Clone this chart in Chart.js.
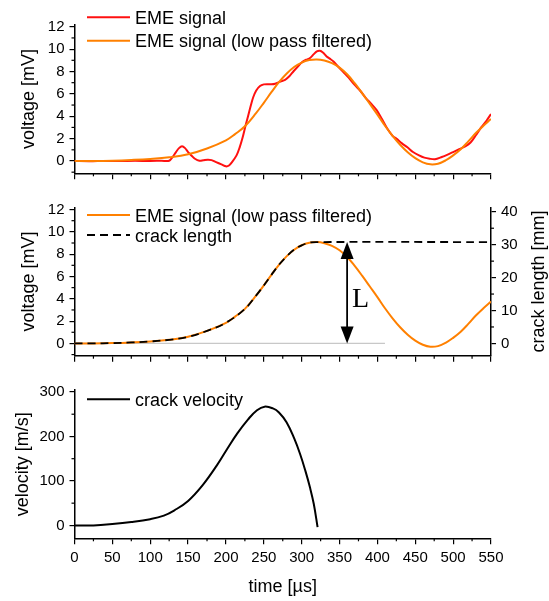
<!DOCTYPE html>
<html>
<head>
<meta charset="utf-8">
<script src="https://cdn.jsdelivr.net/npm/chart.js@4.4.1/dist/chart.umd.min.js"></script>
<style>
  body { margin: 0; background: #fff; }
  #wrap { position: relative; width: 549px; height: 601px; overflow: hidden; }
  canvas { position: absolute; left: 0; }
</style>
</head>
<body>
<div id="wrap">
  <canvas id="c1" width="549" height="190" style="top:0"></canvas>
  <canvas id="c2" width="549" height="180" style="top:190px"></canvas>
  <canvas id="c3" width="549" height="231" style="top:370px"></canvas>
</div>
<script>
// raw EME signal [mV]
var rawT = [0,20,40,60,80,100,115,125,130,134,138,142,146,150,155,159,165,170,176,181,187,194,200,204,208,214,218,222,226,229,233,236,240,245,250,255,260,265,272,278,284,289,295,300,306,311,316,320,324,328,333,337,342,348,355,362,370,377,385,392,399,406,413,420,425,432,440,447,455,462,469,476,485,492,500,508,516,523,530,537,544,550];
var rawV = [0,-0.02,0.01,0,0.02,0,0.02,0.02,0.4,0.8,1.15,1.31,1.15,0.8,0.45,0.2,0.02,0.06,0.12,0.08,-0.1,-0.3,-0.48,-0.4,-0.1,0.5,1.2,2.1,3.2,3.95,5.0,5.7,6.3,6.7,6.85,6.87,6.85,6.9,7.1,7.25,7.6,8.0,8.45,8.8,9.05,9.2,9.55,9.8,9.85,9.7,9.35,9.15,8.9,8.45,7.95,7.45,6.8,6.3,5.6,5.1,4.55,3.75,2.9,2.25,2.0,1.6,1.2,0.8,0.5,0.3,0.2,0.16,0.36,0.55,0.8,1.05,1.3,1.65,2.3,3.0,3.6,4.2];

// low pass filtered signal [mV]
var lpT = [0,25,50,75,100,125,150,175,200,212,225,240,250,260,270,280,290,300,310,320,330,340,350,360,370,380,390,400,410,420,430,440,450,460,470,480,490,500,510,520,530,540,550];
var lpV = [0,0,0.03,0.09,0.18,0.33,0.6,1.12,1.85,2.4,3.1,4.3,5.2,6.15,7.05,7.8,8.4,8.8,9.02,9.08,8.98,8.75,8.35,7.75,6.95,6.05,5.1,4.15,3.15,2.25,1.45,0.78,0.25,-0.12,-0.3,-0.24,0.05,0.5,1.05,1.75,2.5,3.15,3.75];

// crack length [mm]
var crackT = [0,25,50,75,100,125,150,175,200,225,240,250,260,270,280,290,300,310,320,550];
var crackV = [0,0,0.1,0.3,0.6,1.1,2.0,3.8,6.3,10.5,14.6,17.6,20.8,23.9,26.4,28.5,29.8,30.6,30.8,30.8];

// zero reference of crack length
var baseT = [0,410];
var baseV = [0,0];

// crack velocity [m/s]
var velT = [0,25,50,75,100,118,132,150,169,188,202,215,229,241,251,262,270,280,290,298,305,311,316,321];
var velV = [0,0,3,7.5,14,22,34,55,90,135,173,207,238,259,267,263,254,232,196,160,122,85,48,-4];

// ticks
var xMajor = [0,50,100,150,200,250,300,350,400,450,500,550];
var xMinor = [25,75,125,175,225,275,325,375,425,475,525];
var mvMajor = [0,2,4,6,8,10,12];
var mvMinor = [-1,1,3,5,7,9,11];
var mmMajor = [0,10,20,30,40];
var mmMinor = [5,15,25,35];
var velMajor = [0,100,200,300];
var velMinor = [50,150,250];

var arrowAt = 360; // time of the "L" arrow

var FONT = "'Liberation Sans', Arial, sans-serif";

function pts(t, v) {
  return t.map(function (x, i) { return {x: x, y: v[i]}; });
}

function xAxis(labels, h) {
  return {
    type: 'linear', min: 0, max: 550,
    afterBuildTicks: function (s) { s.ticks = xMajor.map(function (v) { return {value: v}; }); },
    ticks: {autoSkip: false, maxRotation: 0, padding: 5, color: '#000',
      font: {family: FONT, size: 15},
      callback: function (v) { return labels ? String(v) : ''; }},
    grid: {drawOnChartArea: false, color: '#000', tickLength: 6, lineWidth: 1.2},
    border: {color: '#000', width: 1.5},
    title: {display: labels, text: 'time [µs]', color: '#000',
      font: {family: FONT, size: 18}, padding: {top: 0, bottom: 3}},
    afterFit: function (s) { s.height = h; }
  };
}

function yAxis(pos, min, max, major, title, tpad, w) {
  return {
    type: 'linear', position: pos, min: min, max: max,
    afterBuildTicks: function (s) { s.ticks = major.map(function (v) { return {value: v}; }); },
    ticks: {padding: 5, color: '#000', font: {family: FONT, size: 15}},
    grid: {drawOnChartArea: false, color: '#000', tickLength: 5, lineWidth: 1.2},
    border: {color: '#000', width: 1.5},
    title: {display: !!title, text: title, color: '#000',
      font: {family: FONT, size: 18}, padding: {top: tpad, bottom: 0}},
    afterFit: function (s) { s.width = w; }
  };
}

var minorTicks = {
  id: 'minorTicks',
  afterDraw: function (chart, args, o) {
    var ctx = chart.ctx;
    ctx.save();
    ctx.strokeStyle = '#000';
    ctx.lineWidth = 1.2;
    Object.keys(o.ticks || {}).forEach(function (id) {
      var s = chart.scales[id];
      o.ticks[id].forEach(function (v) {
        var p = s.getPixelForValue(v);
        ctx.beginPath();
        if (s.isHorizontal()) { ctx.moveTo(p, s.top); ctx.lineTo(p, s.top + 3); }
        else if (s.position === 'left') { ctx.moveTo(s.right, p); ctx.lineTo(s.right - 3, p); }
        else { ctx.moveTo(s.left, p); ctx.lineTo(s.left + 3, p); }
        ctx.stroke();
      });
    });
    ctx.restore();
  }
};

var lineLegend = {
  id: 'lineLegend',
  afterDraw: function (chart, args, o) {
    var ctx = chart.ctx;
    ctx.save();
    ctx.font = '18px ' + FONT;
    ctx.fillStyle = '#000';
    ctx.textBaseline = 'alphabetic';
    var row = 0;
    chart.data.datasets.forEach(function (ds) {
      if (ds.noLegend) return;
      var y = o.y + row * o.gap;
      ctx.strokeStyle = ds.borderColor;
      ctx.lineWidth = ds.borderWidth;
      ctx.setLineDash(ds.borderDash || []);
      ctx.beginPath();
      ctx.moveTo(o.x, y);
      ctx.lineTo(o.x + 43, y);
      ctx.stroke();
      ctx.setLineDash([]);
      ctx.fillText(ds.label, o.x + 48, y + 6.5);
      row++;
    });
    ctx.restore();
  }
};

var arrowL = {
  id: 'arrowL',
  afterDraw: function (chart) {
    var ctx = chart.ctx, x = chart.scales.x, y1 = chart.scales.y1;
    var px = x.getPixelForValue(arrowAt);
    var top = y1.getPixelForValue(crackV[crackV.length - 1]);
    var bot = y1.getPixelForValue(0);
    ctx.save();
    ctx.strokeStyle = '#000';
    ctx.fillStyle = '#000';
    ctx.lineWidth = 1.8;
    ctx.beginPath();
    ctx.moveTo(px, top + 12);
    ctx.lineTo(px, bot - 12);
    ctx.stroke();
    ctx.beginPath();
    ctx.moveTo(px, top); ctx.lineTo(px - 6.5, top + 17); ctx.lineTo(px + 6.5, top + 17);
    ctx.closePath(); ctx.fill();
    ctx.beginPath();
    ctx.moveTo(px, bot); ctx.lineTo(px - 6.5, bot - 17); ctx.lineTo(px + 6.5, bot - 17);
    ctx.closePath(); ctx.fill();
    ctx.font = "28px 'Liberation Serif', 'Times New Roman', serif";
    ctx.textBaseline = 'alphabetic';
    ctx.fillText('L', px + 5, (top + bot) / 2 + 14);
    // right axis title, reading bottom to top
    ctx.font = '18px ' + FONT;
    ctx.textAlign = 'center';
    ctx.textBaseline = 'middle';
    ctx.translate(539, (chart.chartArea.top + chart.chartArea.bottom) / 2);
    ctx.rotate(-Math.PI / 2);
    ctx.fillText('crack length [mm]', 0, 0);
    ctx.restore();
  }
};

function base(pad) {
  return {
    responsive: false, animation: false, events: [],
    layout: {padding: pad},
    elements: {point: {radius: 0}, line: {tension: 0.4}},
    plugins: {legend: {display: false}, tooltip: {enabled: false}}
  };
}

// panel 1
var o1 = base({top: 24.5, right: 58, left: 0, bottom: 0});
o1.scales = {x: xAxis(false, 16.7), y: yAxis('left', -1.1, 12.2, mvMajor, 'voltage [mV]', 18.7, 74.5)};
o1.plugins.minorTicks = {ticks: {x: xMinor, y: mvMinor}};
o1.plugins.lineLegend = {x: 87, y: 17.3, gap: 23.4};
new Chart(document.getElementById('c1'), {
  type: 'line',
  data: {datasets: [
    {label: 'EME signal', data: pts(rawT, rawV), borderColor: '#ff1010', borderWidth: 2, tension: 0.3, order: 1},
    {label: 'EME signal (low pass filtered)', data: pts(lpT, lpV), borderColor: '#ff8000', borderWidth: 2, order: 0}
  ]},
  options: o1,
  plugins: [minorTicks, lineLegend]
});

// panel 2
var o2 = base({top: 17.3, right: 0, left: 0, bottom: 0});
o2.scales = {
  x: xAxis(false, 14.3),
  y: yAxis('left', -1.1, 12.2, mvMajor, 'voltage [mV]', 18.7, 74.5),
  y1: yAxis('right', -3.73, 41.36, mmMajor, '', 0, 58)
};
o2.plugins.minorTicks = {ticks: {x: xMinor, y: mvMinor, y1: mmMinor}};
o2.plugins.lineLegend = {x: 87, y: 25, gap: 20};
new Chart(document.getElementById('c2'), {
  type: 'line',
  data: {datasets: [
    {label: 'EME signal (low pass filtered)', data: pts(lpT, lpV), borderColor: '#ff8000', borderWidth: 2, yAxisID: 'y', order: 1},
    {label: 'crack length', data: pts(crackT, crackV), borderColor: '#000', borderWidth: 1.8, borderDash: [8, 5], yAxisID: 'y1', order: 0},
    {label: 'zero', data: pts(baseT, baseV), borderColor: '#c8c8c8', borderWidth: 1.2, yAxisID: 'y', order: 2, noLegend: true}
  ]},
  options: o2,
  plugins: [minorTicks, lineLegend, arrowL]
});

// panel 3
var o3 = base({top: 20.2, right: 58, left: 0, bottom: 0});
o3.scales = {x: xAxis(true, 62.7), y: yAxis('left', -29, 304, velMajor, 'velocity [m/s]', 11.9, 74.5)};
o3.plugins.minorTicks = {ticks: {x: xMinor, y: velMinor}};
o3.plugins.lineLegend = {x: 87, y: 29.3, gap: 20};
new Chart(document.getElementById('c3'), {
  type: 'line',
  data: {datasets: [
    {label: 'crack velocity', data: pts(velT, velV), borderColor: '#000', borderWidth: 2}
  ]},
  options: o3,
  plugins: [minorTicks, lineLegend]
});
</script>
</body>
</html>
